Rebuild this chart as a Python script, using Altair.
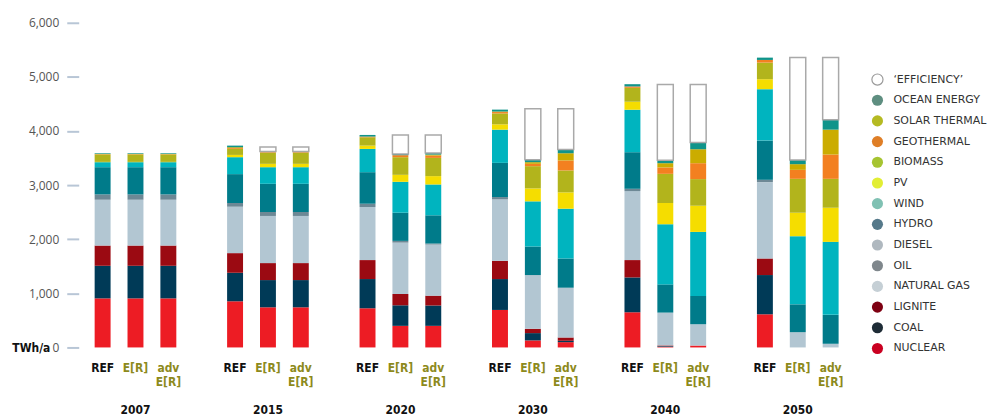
import altair as alt
import pandas as pd

years = ["2007", "2015", "2020", "2030", "2040", "2050"]
scenarios = ["REF", "E[R]", "adv E[R]"]
scenario_labels = ["REF", "E[R]", "adv\nE[R]"]

sources = ["NUCLEAR", "COAL", "LIGNITE", "NATURAL GAS", "OIL", "DIESEL", "HYDRO",
           "WIND", "PV", "BIOMASS", "GEOTHERMAL", "SOLAR THERMAL", "OCEAN ENERGY",
           "\u2018EFFICIENCY\u2019"]
bar_colors = ["#ED1C24", "#003A57", "#9B0A12", "#B2C6D2", "#6D8895", "#A0B0B8", "#007B8A",
              "#00B4BF", "#F5DD00", "#B2B41C", "#F38020", "#CBAC00", "#10948A", "#FFFFFF"]
legend_colors_bottom_up = ["#CA0021", "#1E2C36", "#7E0012", "#C5CFD5", "#7F878C", "#AFB8BF",
                           "#55798A", "#80C1B3", "#E2EE34", "#A6C431", "#DF7E26", "#B5BA22",
                           "#5E8E80", "#FFFFFF"]

# values per bar: 2007 REF, E[R], adv E[R]; 2015 ...; ... 2050
nuclear = [907, 907, 907, 853, 742, 742, 724, 399, 399, 693, 130, 98, 650, 15, 35, 613, 0, 0]
coal = [602, 602, 602, 527, 503, 503, 540, 380, 376, 571, 135, 25, 644, 12, 0, 725, 0, 0]
lignite = [374, 374, 374, 363, 314, 314, 350, 209, 182, 337, 80, 61, 320, 10, 0, 306, 0, 0]
natural_gas = [847, 847, 847, 858, 871, 871, 981, 950, 945, 1136, 993, 920, 1276, 607, 394, 1411, 282, 68]
oil = [98, 98, 98, 68, 73, 73, 61, 31, 18, 42, 0, 0, 42, 0, 0, 43, 0, 0]
diesel = [0, 0, 0, 0, 0, 0, 0, 0, 0, 0, 0, 0, 0, 0, 0, 0, 0, 0]
hydro = [503, 503, 503, 534, 521, 521, 583, 521, 522, 632, 527, 540, 676, 521, 522, 725, 515, 534]
wind = [93, 93, 93, 313, 307, 307, 430, 571, 570, 614, 835, 920, 785, 1112, 1184, 950, 1259, 1349]
pv = [5, 5, 5, 42, 62, 62, 61, 129, 154, 98, 239, 302, 148, 392, 484, 184, 434, 631]
biomass = [136, 136, 136, 111, 209, 209, 154, 326, 337, 202, 411, 405, 257, 539, 492, 307, 626, 534]
geothermal = [6, 6, 6, 15, 10, 10, 13, 37, 43, 25, 43, 184, 25, 118, 294, 49, 166, 449]
solar_thermal = [6, 6, 6, 16, 0, 0, 0, 0, 18, 10, 31, 134, 0, 79, 258, 0, 105, 460]
ocean_energy = [12, 12, 12, 30, 8, 8, 30, 24, 31, 35, 43, 68, 42, 55, 123, 43, 79, 184]
efficiency = [0, 0, 0, 0, 86, 86, 0, 349, 331, 0, 945, 755, 0, 1399, 1073, 0, 1890, 1147]

series = [nuclear, coal, lignite, natural_gas, oil, diesel, hydro, wind, pv, biomass,
          geothermal, solar_thermal, ocean_energy, efficiency]

rows = []
for si, (src, vals) in enumerate(zip(sources, series)):
    for i, v in enumerate(vals):
        rows.append({"source": src, "order": si, "eff": si == 13,
                     "year": years[i // 3], "scenario": scenarios[i % 3], "value": v})
df = pd.DataFrame(rows)

lab_df = pd.DataFrame({
    "year": [y for y in years for _ in scenarios],
    "scenario": scenarios * len(years),
    "label": scenario_labels * len(years),
})

x_enc = alt.X("year:N", scale=alt.Scale(domain=years, paddingInner=0.3, paddingOuter=0.0786),
              axis=alt.Axis(title=None, ticks=False, domain=False, labelPadding=57, labelAngle=0,
                            labelFontSize=12, labelFontWeight="bold", labelColor="#111",
                            labelFont="DejaVu Sans Condensed"))
xoff_enc = alt.XOffset("scenario:N", scale=alt.Scale(domain=scenarios, paddingInner=0.515,
                                                     paddingOuter=0.168))

bars = alt.Chart(df).transform_filter("datum.value > 0").mark_bar().encode(
    x=x_enc,
    xOffset=xoff_enc,
    y=alt.Y("value:Q", stack="zero", scale=alt.Scale(domain=[0, 6000], nice=False),
            axis=alt.Axis(values=[0, 1000, 2000, 3000, 4000, 5000, 6000], format=",.0f",
                          tickSize=12, tickColor="#B8C6D6", tickWidth=2, domain=False, grid=False,
                          labelColor="#555", labelFontSize=12, labelFont="Open Sans",
                          labelPadding=8, title="TWh/a", titleAngle=0, titleFontWeight="bold",
                          titleFont="DejaVu Sans Condensed", titleFontSize=12, titleColor="#111",
                          titleX=-29, titleY=326, titleAlign="right", titleBaseline="middle")),
    color=alt.Color("source:N", scale=alt.Scale(domain=sources, range=bar_colors), legend=None),
    order=alt.Order("order:Q", sort="ascending"),
    stroke=alt.value("#A9A9A9"),
    strokeWidth=alt.condition("datum.eff", alt.value(1.5), alt.value(0)),
)

labels = alt.Chart(lab_df).mark_text(baseline="top", dy=16, fontWeight="bold", fontSize=12,
                                     font="DejaVu Sans Condensed", lineBreak="\n",
                                     lineHeight=14).encode(
    x=x_enc,
    xOffset=xoff_enc,
    y=alt.datum(0),
    text="label:N",
    color=alt.condition("datum.scenario == 'REF'", alt.value("#111111"), alt.value("#8D8A1C")),
)

main = alt.layer(bars, labels).properties(width=779, height=326)

legend_order = list(reversed(sources))
leg_df = pd.DataFrame({"label": legend_order, "eff": [l == sources[-1] for l in legend_order]})
legend_colors = list(reversed(legend_colors_bottom_up))

leg_base = alt.Chart(leg_df).encode(
    y=alt.Y("label:N", sort=legend_order, axis=None,
            scale=alt.Scale(type="point", padding=0, range=[57, 327]))
)
circles = leg_base.mark_point(filled=True, size=125, shape="circle", opacity=1).encode(
    x=alt.value(6),
    fill=alt.Fill("label:N", scale=alt.Scale(domain=legend_order, range=legend_colors),
                  legend=None),
    stroke=alt.value("#9A9A9A"),
    strokeWidth=alt.condition("datum.eff", alt.value(1.2), alt.value(0)),
)
texts = leg_base.mark_text(align="left", baseline="middle", fontSize=11, font="DejaVu Sans",
                           color="#333333").encode(x=alt.value(22), text="label:N")
legend = alt.layer(circles, texts).properties(width=100, height=340)

chart = alt.hconcat(main, legend, spacing=15).resolve_scale(
    x="independent", y="independent"
).properties(
    padding={"left": 3, "top": 8, "right": 0, "bottom": 0}
).configure_view(stroke=None)

chart.save("out.html", embed_options={"renderer": "svg", "actions": False})
